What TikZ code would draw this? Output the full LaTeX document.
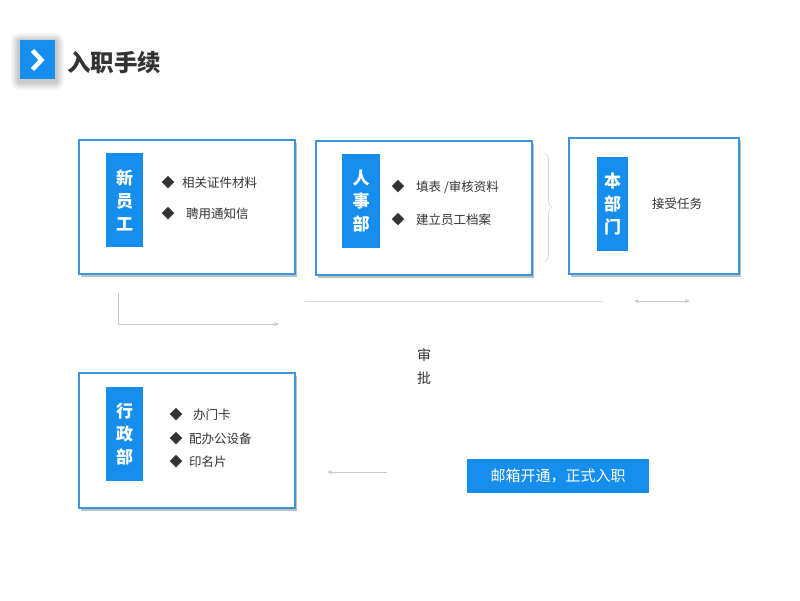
\documentclass[tikz,border=0pt]{standalone}
\usepackage{fontspec}
\setmainfont{Noto Sans CJK SC}
\usetikzlibrary{shadows,decorations.pathreplacing,arrows.meta}
\definecolor{mainblue}{RGB}{22,142,238}
\definecolor{boxline}{RGB}{60,150,220}
\definecolor{txt}{RGB}{51,51,51}
\definecolor{lgray}{RGB}{200,200,200}
\begin{document}
\begin{tikzpicture}[x=1pt,y=-1pt,
  card/.style={draw=boxline, line width=1.1pt, fill=white, minimum width=#1, inner sep=0pt,
    drop shadow={shadow xshift=1.5pt, shadow yshift=-3pt, fill=black, opacity=0.25}},
  tag/.style={fill=mainblue, text=white, font=\bfseries\fontsize{17}{23}\selectfont, align=center, inner sep=0pt, minimum width=37pt, minimum height=94pt},
  bul/.style={text=txt, font=\fontsize{13}{13}\selectfont, inner sep=0pt},
  item/.style={text=txt, font=\fontsize{12.5}{14}\selectfont, anchor=west, inner sep=0pt},
  conn/.style={draw=lgray, line width=0.8pt},
  tip/.style={-{Stealth[length=5pt,width=4pt]}}
]
\useasboundingbox (0,0) rectangle (800,600);
\fill[white] (0,0) rectangle (800,600);
% title
\foreach \d/\o in {9/0.04,7/0.05,5/0.06,3/0.07}{
  \fill[black,opacity=\o,rounded corners=\d pt] (20-\d,40-\d+2) rectangle (55+\d,79+\d+2);
}
\node[fill=mainblue, minimum width=35pt, minimum height=39pt, inner sep=0pt] (tbox) at (37.5,59.5) {};
\draw[white, line width=4.5pt, line join=miter] (32.5,50.5) -- (41.5,60) -- (32.5,69.5);
\node[anchor=west, text=txt, font=\bfseries\fontsize{23.5}{23.5}\selectfont, inner sep=0pt] (title) at (67,63) {入职手续};

% boxes
\node[card=216pt, minimum height=134pt] (b1) at (187,207) {};
\node[card=216pt, minimum height=134pt] (b2) at (424,208) {};
\node[card=170pt, minimum height=136pt] (b3) at (654,206) {};
\node[card=216pt, minimum height=135pt] (b4) at (187,440.5) {};

\node[tag] (t1) at (124.5,200) {新\\员\\工};
\node[tag, minimum width=38pt] (t2) at (361,201) {人\\事\\部};
\node[tag, minimum width=31pt] (t3) at (612.5,204) {本\\部\\门};
\node[tag] (t4) at (124.5,434) {行\\政\\部};

\node[bul] (d11) at (168,183) {◆};
\node[item] (i11) at (182,183) {相关证件材料};
\node[bul] (d12) at (168,214) {◆};
\node[item] (i12) at (186,214) {聘用通知信};

\node[bul] (d21) at (398,187) {◆};
\node[item] (i21) at (416,187) {填表 /审核资料};
\node[bul] (d22) at (398,220) {◆};
\node[item] (i22) at (416,220) {建立员工档案};

\node[item] (i31) at (652,204) {接受任务};

\node[bul] (d41) at (176,415) {◆};
\node[item] (i41) at (193,415) {办门卡};
\node[bul] (d42) at (176,439) {◆};
\node[item] (i42) at (189,439) {配办公设备};
\node[bul] (d43) at (176,462) {◆};
\node[item] (i43) at (189,462) {印名片};

% brace
\draw[draw=lgray!80, line width=0.6pt, decorate, decoration={brace, amplitude=7pt}] (545,153) -- (545,262);

% connectors
\coordinate (l1) at (118,293);
\coordinate (l2) at (118,324);
\coordinate (l3) at (279,324);
\draw[conn, tip] (l1) -- (l2) -- (l3);
\coordinate (h1) at (305,301);
\coordinate (h2) at (603,301);
\draw[draw=lgray!70, line width=0.8pt] (h1) -- (h2);
\coordinate (a1) at (634,301);
\coordinate (a2) at (690,301);
\draw[conn, {Stealth[length=5pt,width=4pt]}-{Stealth[length=5pt,width=4pt]}] (a1) -- (a2);

\node[text=txt, font=\fontsize{14}{23}\selectfont, align=center, inner sep=0pt] (sp) at (424,366.5) {审\\批};

\node[fill=mainblue, text=white, font=\fontsize{15}{15}\selectfont, minimum width=182pt, minimum height=34pt, inner sep=0pt] (mail) at (558,476) {邮箱开通，正式入职};
\coordinate (m1) at (387,472);
\coordinate (m2) at (327,472);
\draw[conn, tip] (m1) -- (m2);
\end{tikzpicture}
\end{document}
